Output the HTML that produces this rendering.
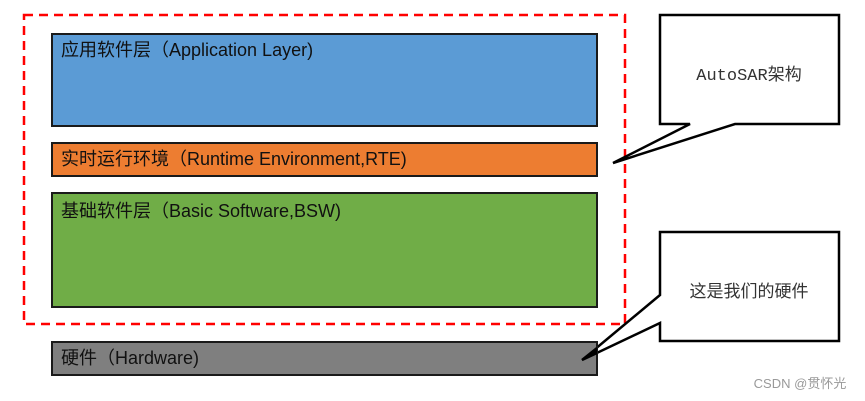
<!DOCTYPE html>
<html><head><meta charset="utf-8"><style>
body{margin:0;width:865px;height:401px;background:#fff;overflow:hidden;position:relative;font-family:"Liberation Sans","Noto Sans CJK SC",sans-serif}
.b{position:absolute;left:51px;width:547px;border:2px solid #1a1a1a;font-size:18px;color:#111;padding-left:8px;box-sizing:border-box}
</style></head><body>
<svg width="865" height="401" style="position:absolute;left:0;top:0">
<rect x="24" y="15" width="601" height="309" fill="none" stroke="#f00" stroke-width="2.5" stroke-dasharray="9,6"/>
<path d="M660 15 H839 V124 H735 L613 163 L690 124 H660 Z" fill="#fff" stroke="#000" stroke-width="2.5"/>
<path d="M660 232 H839 V341 H660 V323 L582 360 L660 295 Z" fill="#fff" stroke="#000" stroke-width="2.5"/>
<text x="749" y="80" font-size="17" text-anchor="middle" font-family="Liberation Mono,'Noto Sans CJK SC',monospace" fill="#333">AutoSAR架构</text>
<text x="749" y="297" font-size="17" text-anchor="middle" font-family="'Noto Sans CJK SC',sans-serif" fill="#333">这是我们的硬件</text>
<text x="800" y="388" font-size="13" text-anchor="middle" fill="#999">CSDN @贯怀光</text>
</svg>
<div class="b" style="top:33px;height:94px;background:#5b9bd5;line-height:30px">应用软件层（Application Layer)</div>
<div class="b" style="top:142px;height:35px;background:#ed7d31;line-height:30px">实时运行环境（Runtime Environment,RTE)</div>
<div class="b" style="top:192px;height:116px;background:#70ad47;line-height:34px">基础软件层（Basic Software,BSW)</div>
<div class="b" style="top:341px;height:35px;background:#7f7f7f;line-height:30px">硬件（Hardware)</div>
<svg width="865" height="401" style="position:absolute;left:0;top:0;pointer-events:none">
<path d="M597 348 L582 360 L597 353" fill="#000" stroke="#000" stroke-width="2.5"/>
</svg>
</body></html>
